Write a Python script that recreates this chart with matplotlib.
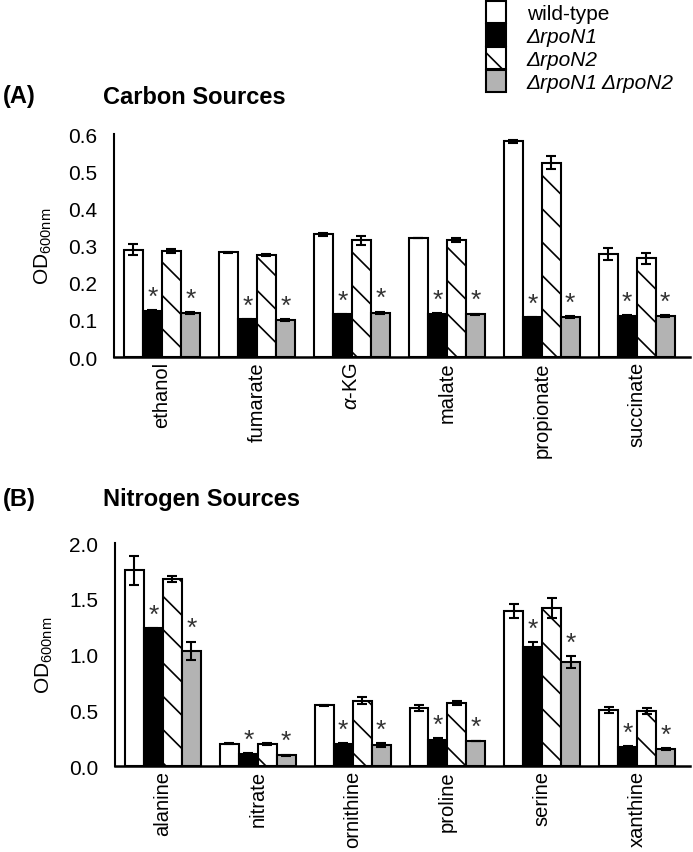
import matplotlib.pyplot as plt
import numpy as np

plt.rcParams['font.family'] = ['Liberation Sans', 'DejaVu Sans']
plt.rcParams['mathtext.fontset'] = 'custom'
plt.rcParams['mathtext.rm'] = 'Liberation Sans'
plt.rcParams['mathtext.it'] = 'Liberation Sans:italic'
plt.rcParams['hatch.linewidth'] = 1.2

strains = ['wild-type', 'ΔrpoN1', 'ΔrpoN2', 'ΔrpoN1 ΔrpoN2']

carbon = ['ethanol', 'fumarate', r'$\alpha$-KG', 'malate', 'propionate', 'succinate']
c_wt = [0.289, 0.282, 0.330, 0.321, 0.580, 0.277]
c_n1 = [0.124, 0.101, 0.115, 0.117, 0.107, 0.110]
c_n2 = [0.286, 0.275, 0.314, 0.315, 0.523, 0.266]
c_n12 = [0.119, 0.099, 0.119, 0.115, 0.107, 0.110]
c_wt_err = [0.015, 0.001, 0.004, 0.0, 0.003, 0.017]
c_n1_err = [0.002, 0.001, 0.001, 0.002, 0.001, 0.002]
c_n2_err = [0.005, 0.002, 0.012, 0.005, 0.018, 0.015]
c_n12_err = [0.002, 0.002, 0.003, 0.002, 0.002, 0.003]

nitrogen = ['alanine', 'nitrate', 'ornithine', 'proline', 'serine', 'xanthine']
n_wt = [1.755, 0.20, 0.545, 0.52, 1.39, 0.505]
n_n1 = [1.235, 0.11, 0.20, 0.235, 1.065, 0.17]
n_n2 = [1.675, 0.20, 0.585, 0.565, 1.42, 0.49]
n_n12 = [1.035, 0.098, 0.19, 0.225, 0.93, 0.15]
n_wt_err = [0.13, 0.005, 0.005, 0.027, 0.06, 0.025]
n_n1_err = [0.005, 0.005, 0.005, 0.012, 0.045, 0.01]
n_n2_err = [0.025, 0.01, 0.033, 0.015, 0.09, 0.027]
n_n12_err = [0.08, 0.005, 0.015, 0.003, 0.053, 0.01]

colors = ['white', 'black', 'white', '#b3b3b3']
hatches = ['', '', '\\', '']


def panel(ax, cats, vals, errs, ymax, ystep):
    x = np.arange(len(cats))
    w = 0.2
    offs = [-0.3, -0.1, 0.1, 0.3]
    for i in range(4):
        ax.bar(x + offs[i], vals[i], w, color=colors[i], edgecolor='black',
               hatch=hatches[i], linewidth=1.5, label=strains[i], zorder=2)
        ax.errorbar(x + offs[i], vals[i], yerr=errs[i], fmt='none', ecolor='black',
                    elinewidth=1.5, capsize=3.5, capthick=1.5, zorder=3)
    # significance stars on the single and double mutants
    for i in [1, 3]:
        for j in range(len(cats)):
            ax.annotate('*', (x[j] + offs[i], vals[i][j] + errs[i][j]), xytext=(0, 1),
                        textcoords='offset points', ha='center', va='bottom',
                        fontsize=19, color='#333333')
    ax.set_xlim(-0.505, 5.56)
    ax.set_ylim(0, ymax)
    ticks = np.arange(0, ymax + ystep / 2, ystep)
    ax.set_yticks(ticks)
    ax.set_yticklabels(['%.1f' % t for t in ticks], fontsize=15)
    ax.set_xticks(x)
    ax.set_xticklabels(cats, rotation=90, fontsize=14.5)
    ax.tick_params(axis='x', length=0, pad=3)
    ax.tick_params(axis='y', length=0, pad=12)
    for s in ['top', 'right']:
        ax.spines[s].set_visible(False)
    ax.spines['left'].set_linewidth(1.5)
    ax.spines['bottom'].set_linewidth(1.8)
    ax.set_ylabel(r'OD$_{\mathrm{600nm}}$', fontsize=15, labelpad=10)


fig = plt.figure(figsize=(6.93, 8.53), dpi=100)
ax1 = fig.add_axes([0.1645, 0.5803, 0.831, 0.2614])
ax2 = fig.add_axes([0.166, 0.1008, 0.830, 0.2614])

panel(ax1, carbon, [c_wt, c_n1, c_n2, c_n12], [c_wt_err, c_n1_err, c_n2_err, c_n12_err], 0.6, 0.1)
panel(ax2, nitrogen, [n_wt, n_n1, n_n2, n_n12], [n_wt_err, n_n1_err, n_n2_err, n_n12_err], 2.0, 0.5)

fig.text(0.004, 1 - 97 / 853, '(A)', fontsize=17, fontweight='bold', va='center')
fig.text(103 / 693, 1 - 97 / 853, 'Carbon Sources', fontsize=17, fontweight='bold', va='center')
fig.text(0.004, 1 - 500 / 853, '(B)', fontsize=17, fontweight='bold', va='center')
fig.text(103 / 693, 1 - 500 / 853, 'Nitrogen Sources', fontsize=17, fontweight='bold', va='center')

h, l = ax1.get_legend_handles_labels()
leg = fig.legend(h, l, loc='upper left', bbox_to_anchor=(486 / 693, 1 - 2 / 853), frameon=False,
                 fontsize=15, handlelength=0.95, handleheight=1.25, labelspacing=0.05,
                 handletextpad=1.0, borderaxespad=0, borderpad=0)
for t in leg.get_texts()[1:]:
    t.set_fontstyle('italic')

plt.savefig('out.png', dpi=100)
